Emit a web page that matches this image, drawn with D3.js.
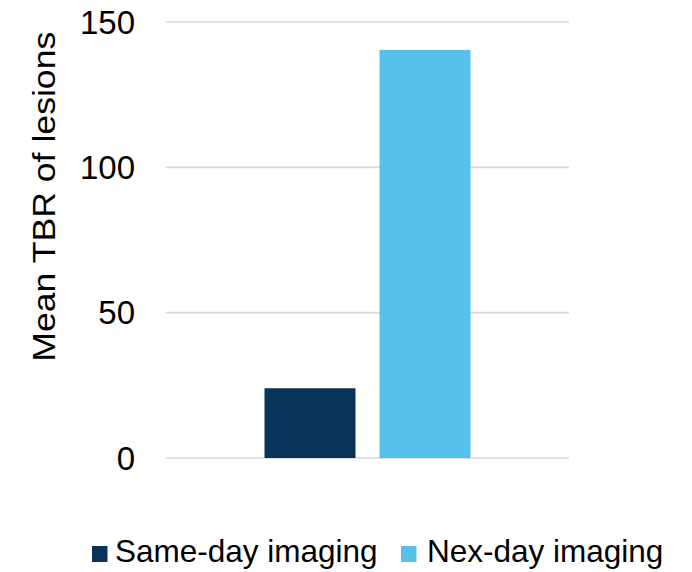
<!DOCTYPE html>
<html>
<head>
<meta charset="utf-8">
<script src="https://cdn.jsdelivr.net/npm/d3@7"></script>
<style>
  html, body { margin: 0; padding: 0; background: #ffffff; }
  svg { display: block; font-family: Arial, "Liberation Sans", sans-serif; }
</style>
</head>
<body>
<svg id="chart" width="692" height="572"></svg>
<script>
const categories = [""];
const seriesNames = ["Same-day imaging", "Nex-day imaging"];
const seriesValues = [24.0, 140.4];
const seriesColors = ["#083459", "#56C1EB"];
const yTicks = [0, 50, 100, 150];
const yTitle = "Mean TBR of lesions";

const svg = d3.select("#chart");
const plot = { left: 166, right: 569, top: 22, bottom: 458 };

const y = d3.scaleLinear().domain([0, 150]).range([plot.bottom, plot.top]);
const x0 = d3.scaleBand().domain(categories).range([plot.left, plot.right])
  .paddingInner(0).paddingOuter(0.478);
const x1 = d3.scaleBand().domain(seriesNames).range([0, x0.bandwidth()])
  .paddingInner(0.2087).paddingOuter(0);

// gridlines
svg.append("g").selectAll("line").data(yTicks).join("line")
  .attr("x1", plot.left).attr("x2", plot.right)
  .attr("y1", d => y(d)).attr("y2", d => y(d))
  .attr("stroke", "#d9d9d9").attr("stroke-width", 1.6);

// y tick labels
svg.append("g").selectAll("text").data(yTicks).join("text")
  .attr("x", 135).attr("y", d => y(d) + 11.8)
  .attr("text-anchor", "end")
  .attr("font-size", 33).attr("fill", "#000")
  .text(d => d3.format("d")(d));

// bars
const data = seriesNames.map((s, i) => ({ cat: categories[0], series: s, value: seriesValues[i], color: seriesColors[i] }));
svg.append("g").selectAll("rect").data(data).join("rect")
  .attr("x", d => x0(d.cat) + x1(d.series))
  .attr("width", x1.bandwidth())
  .attr("y", d => y(d.value))
  .attr("height", d => y(0) - y(d.value))
  .attr("fill", d => d.color);

// y axis title
svg.append("text")
  .attr("transform", "translate(55,196.7) rotate(-90)")
  .attr("text-anchor", "middle")
  .attr("font-size", 31.5)
  .attr("textLength", 330)
  .attr("lengthAdjust", "spacingAndGlyphs")
  .attr("fill", "#000")
  .text(yTitle);

// legend
const legendItems = [
  { sq: 92, tx: 115 },
  { sq: 401, tx: 427 }
];
const lg = svg.append("g");
seriesNames.forEach((s, i) => {
  lg.append("rect").attr("x", legendItems[i].sq).attr("y", 546)
    .attr("width", 15.5).attr("height", 16).attr("fill", seriesColors[i]);
  lg.append("text").attr("x", legendItems[i].tx).attr("y", 562)
    .attr("font-size", 31.5).attr("fill", "#000").text(s);
});
</script>
</body>
</html>
